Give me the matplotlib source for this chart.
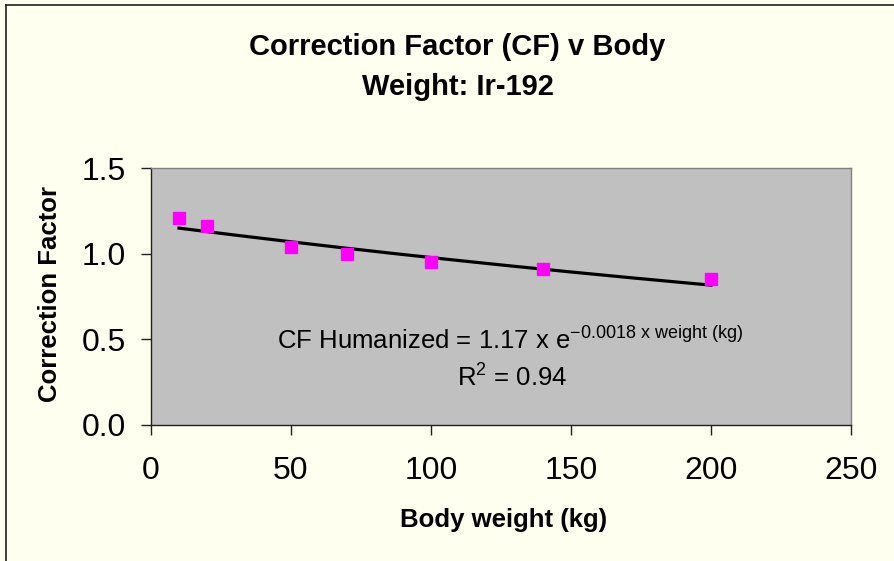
import matplotlib
matplotlib.use('Agg')
import matplotlib.pyplot as plt
from matplotlib.lines import Line2D
import numpy as np

plt.rcParams['font.family'] = ['Liberation Sans', 'DejaVu Sans']
plt.rcParams['mathtext.fontset'] = 'custom'
plt.rcParams['mathtext.rm'] = 'Liberation Sans'
plt.rcParams['mathtext.it'] = 'Liberation Sans'

# measured points
weight = [10, 20, 50, 70, 100, 140, 200]
cf = [1.21, 1.16, 1.04, 1.00, 0.95, 0.91, 0.85]

# exponential trendline shown on the chart
fit_a = 1.17
fit_b = -0.0018
r2 = 0.94

x_ticks = [0, 50, 100, 150, 200, 250]
y_ticks = [0.0, 0.5, 1.0, 1.5]
title_lines = ['Correction Factor (CF) v Body', 'Weight: Ir-192']

W, H = 895, 561
fig = plt.figure(figsize=(W / 100, H / 100), dpi=100, facecolor='#FFFFF0')
ax = fig.add_axes([151/W, 1 - 425/H, 700/W, 257/H])
ax.set_facecolor('#C0C0C0')

xs = np.linspace(min(weight), max(weight), 200)
ax.plot(xs, fit_a * np.exp(fit_b * xs), color='black', lw=2.3, zorder=2)
ax.plot(weight, cf, 's', color='#FF00FF', ms=8.3, mec='#FF00FF', zorder=3)

ax.set_xlim(0, 250)
ax.set_ylim(0, 1.5)
ax.set_xticks(x_ticks)
ax.set_yticks(y_ticks)
ax.set_yticklabels([f'{v:.1f}' for v in y_ticks])
ax.tick_params(direction='out', length=7, width=1, labelsize=23, color='#202020')
ax.tick_params(axis='x', pad=15)
ax.tick_params(axis='y', pad=11)

for s in ['left', 'bottom']:
    ax.spines[s].set_color('#202020')
    ax.spines[s].set_linewidth(1)
for s in ['top', 'right']:
    ax.spines[s].set_color('#808080')
    ax.spines[s].set_linewidth(1)

fig.text(504/W, 1 - 520/H, 'Body weight (kg)', ha='center', va='center',
         fontsize=18.5, fontweight='bold')
fig.text(50/W, 1 - 293.5/H, 'Correction Factor', ha='center', va='center',
         rotation=90, fontsize=18.5, fontweight='bold')

fig.text(457.5/W, 1 - 55/H, title_lines[0], ha='center', va='baseline',
         fontsize=21, fontweight='bold')
fig.text(457.5/W, 1 - 95/H, title_lines[1], ha='center', va='baseline',
         fontsize=21, fontweight='bold')

ax.text((510.5 - 151) / 700, (425 - 349) / 257,
        r'CF Humanized = 1.17 x e$^{\mathrm{-0.0018\ x\ weight\ (kg)}}$',
        transform=ax.transAxes, ha='center', va='baseline', fontsize=18.5)
ax.text((512 - 151) / 700, (425 - 387) / 257,
        r'R$^{2}$ = ' + f'{r2:.2f}',
        transform=ax.transAxes, ha='center', va='baseline', fontsize=18.5)

# chart border (left and top edges visible)
fig.add_artist(Line2D([6.5/W, 6.5/W], [0, 1 - 4.5/H], color='#202020', lw=1.2))
fig.add_artist(Line2D([6.5/W, 1], [1 - 4.5/H, 1 - 4.5/H], color='#202020', lw=1.2))

fig.savefig('out.png', dpi=100, facecolor=fig.get_facecolor())
